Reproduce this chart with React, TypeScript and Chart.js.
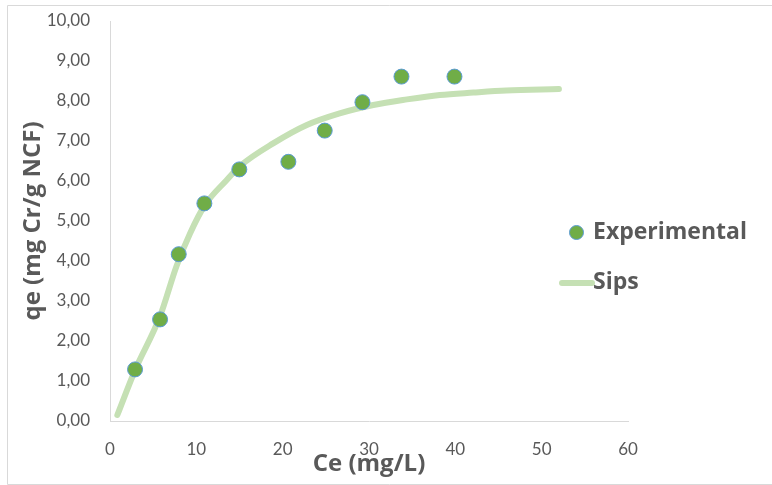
import React, { useEffect, useRef } from 'react';
import { Chart, registerables } from 'chart.js';
Chart.register(...registerables);

const expCe = [2.9, 5.8, 7.96, 10.93, 14.98, 20.66, 24.87, 29.24, 33.76, 39.9];
const expQe = [1.29, 2.54, 4.17, 5.44, 6.29, 6.48, 7.26, 7.97, 8.61, 8.61];

const sipsCe = [0.85, 2.9, 5.8, 7.72, 9.27, 11.0, 13.5, 15.1, 18.9, 22.8, 26.6, 30.5, 34.4, 38.2, 42.1, 45.9, 52.0];
const sipsQe = [0.15, 1.27, 2.62, 3.88, 4.69, 5.4, 6.02, 6.38, 6.94, 7.4, 7.69, 7.9, 8.04, 8.15, 8.21, 8.26, 8.3];

const xMin = 0, xMax = 60, xStep = 10;
const yMin = 0, yMax = 10, yStep = 1;

const seriesNames = ['Experimental', 'Sips'];
const xTitle = 'Ce (mg/L)';
const yTitle = 'qe (mg Cr/g NCF)';

const TICK_FONT = 'Lato';
const TITLE_FONT = '"Open Sans"';
const GREY = '#595959';
const PT_FILL = '#70ad47';
const PT_BORDER = '#5b9bd5';
const LINE_COLOR = '#c5e0b4';

const frameAndLegend = {
  id: 'frameAndLegend',
  afterDraw(chart: any) {
    const ctx = chart.ctx;
    ctx.save();
    ctx.strokeStyle = '#d9d9d9';
    ctx.lineWidth = 1;
    ctx.beginPath();
    ctx.moveTo(772, 5.5);
    ctx.lineTo(7.5, 5.5);
    ctx.lineTo(7.5, 484.5);
    ctx.lineTo(772, 484.5);
    ctx.stroke();

    ctx.font = `bold 23px ${TITLE_FONT}`;
    ctx.textBaseline = 'middle';
    ctx.textAlign = 'left';
    ctx.beginPath();
    ctx.arc(576.5, 232.5, 7, 0, Math.PI * 2);
    ctx.fillStyle = PT_FILL;
    ctx.fill();
    ctx.strokeStyle = PT_BORDER;
    ctx.lineWidth = 1;
    ctx.stroke();
    ctx.fillStyle = GREY;
    ctx.fillText(seriesNames[0], 593, 232);
    ctx.beginPath();
    ctx.moveTo(562, 283);
    ctx.lineTo(592, 283);
    ctx.strokeStyle = LINE_COLOR;
    ctx.lineWidth = 6;
    ctx.lineCap = 'round';
    ctx.stroke();
    ctx.fillText(seriesNames[1], 593, 282);
    ctx.restore();
  },
};

export default function App() {
  const ref = useRef<HTMLCanvasElement>(null);
  useEffect(() => {
    document.body.style.margin = '0';
    const chart = new Chart(ref.current as HTMLCanvasElement, {
      type: 'scatter',
      data: {
        datasets: [
          {
            label: seriesNames[0],
            data: expCe.map((x, i) => ({ x, y: expQe[i] })),
            backgroundColor: PT_FILL,
            borderColor: PT_BORDER,
            borderWidth: 1,
            pointRadius: 7.5,
            showLine: false,
          },
          {
            label: seriesNames[1],
            data: sipsCe.map((x, i) => ({ x, y: sipsQe[i] })),
            showLine: true,
            borderColor: LINE_COLOR,
            backgroundColor: LINE_COLOR,
            borderWidth: 6,
            borderCapStyle: 'round',
            pointRadius: 0,
            cubicInterpolationMode: 'monotone',
          } as any,
        ],
      },
      options: {
        responsive: false,
        animation: false,
        layout: { padding: { left: 0, top: 21, right: 144, bottom: 0 } },
        plugins: { legend: { display: false }, tooltip: { enabled: false } },
        scales: {
          x: {
            type: 'linear',
            min: xMin,
            max: xMax,
            afterFit: (s: any) => { s.height = 64; s.paddingLeft = 0; s.paddingRight = 0; },
            grid: { display: false, drawTicks: false },
            border: { display: true, color: '#d9d9d9', width: 1 },
            ticks: { stepSize: xStep, color: GREY, font: { family: TICK_FONT, size: 17 }, padding: 18, maxRotation: 0 },
            title: { display: true, text: xTitle, color: GREY, font: { family: TITLE_FONT, size: 24, weight: 'bold' }, padding: { top: 0, bottom: 6 } },
          },
          y: {
            type: 'linear',
            min: yMin,
            max: yMax,
            afterFit: (s: any) => { s.width = 110; s.paddingTop = 0; s.paddingBottom = 0; },
            grid: { display: false, drawTicks: false },
            border: { display: true, color: '#d9d9d9', width: 1 },
            ticks: {
              stepSize: yStep,
              color: GREY,
              font: { family: TICK_FONT, size: 17 },
              padding: 20,
              callback: (v: any) => Number(v).toFixed(2).replace('.', ','),
            },
            title: { display: true, text: yTitle, color: GREY, font: { family: TITLE_FONT, size: 24, weight: 'bold' }, padding: { top: 19, bottom: 0 } },
          },
        },
      },
      plugins: [frameAndLegend],
    });
    return () => chart.destroy();
  }, []);
  return (
    <div style={{ width: 772, height: 485, position: 'relative' }}>
      <canvas ref={ref} width={772} height={485} />
    </div>
  );
}
